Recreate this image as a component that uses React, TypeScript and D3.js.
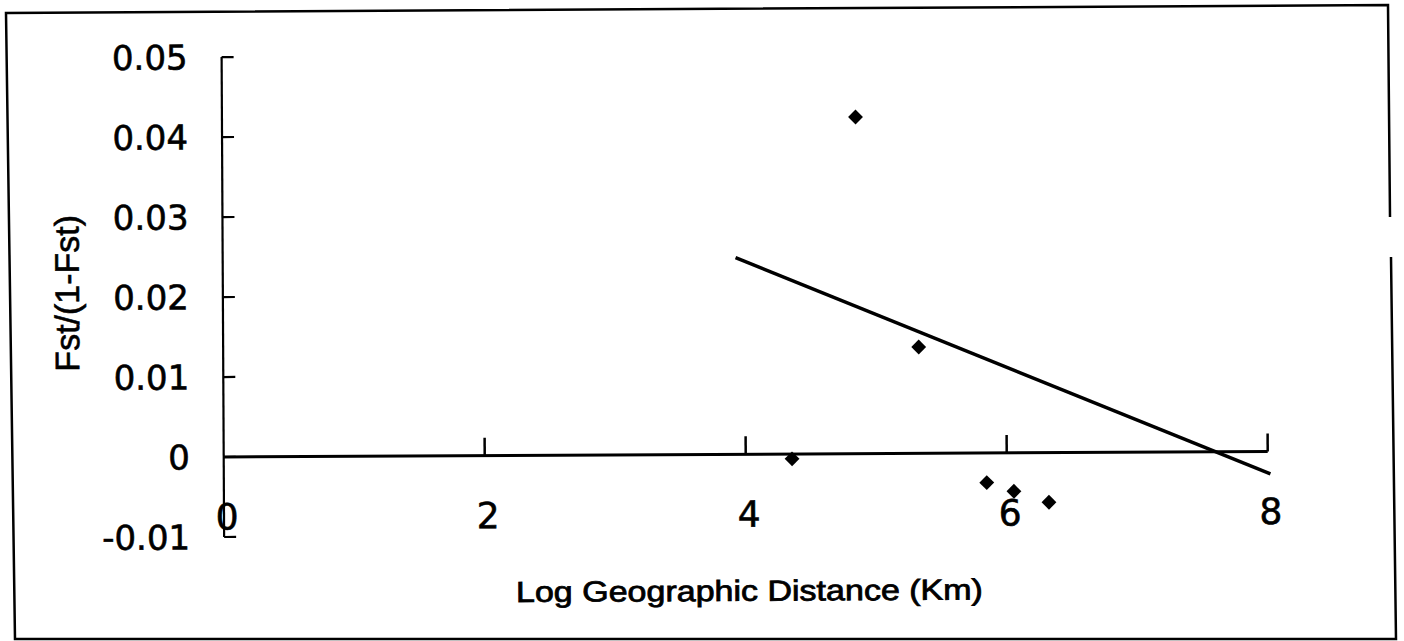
import React from "react";
import * as d3 from "d3";

const distX = [4.355, 4.855, 5.33, 5.846, 6.054, 6.322];
const fstY = [-0.0006, 0.0421, 0.0133, -0.0037, -0.0048, -0.0062];
const fitX = [3.93, 8.02];
const fitY = [0.0246, -0.0028];
const xTicks = [0, 2, 4, 6, 8];
const yTicks = [-0.01, 0, 0.01, 0.02, 0.03, 0.04, 0.05];
const yTickLabels = ["-0.01", "0", "0.01", "0.02", "0.03", "0.04", "0.05"];
const xTitle = "Log Geographic Distance (Km)";
const yTitle = "Fst/(1-Fst)";

export default function App() {
  const W = 1404, H = 641;
  const x = d3.scaleLinear().domain([0, 8]).range([223, 1267]);
  const y = d3.scaleLinear().domain([-0.01, 0.05]).range([534.5, 54.6]);
  const diamond = d3.symbol().type(d3.symbolSquare).size(110)();
  const line = d3.line<number>().x((_, i) => x(fitX[i])).y((_, i) => y(fitY[i]));
  const tickFont = "'DejaVu Sans', sans-serif";
  const titleFont = "'Liberation Sans', Arial, sans-serif";
  return (
    <svg width={W} height={H} style={{ position: "absolute", left: 0, top: 0, background: "#fff" }}>
      <rect x={0} y={0} width={W} height={H} fill="#fff" />
      {/* frame */}
      <path d="M1390,217 L1388,5 L6,13 L15,639 L1396,639 L1391,257" fill="none" stroke="#000" strokeWidth={2.5} />
      <g transform="rotate(-0.3 700 320)">
        {/* y axis */}
        <line x1={x(0)} x2={x(0)} y1={y(0.05)} y2={y(-0.01)} stroke="#000" strokeWidth={2.2} />
        {yTicks.map((t) => (
          <line key={"yt" + t} x1={x(0)} x2={x(0) + 12} y1={y(t)} y2={y(t)} stroke="#000" strokeWidth={2.2} />
        ))}
        {yTicks.map((t, i) => (
          <text key={"yl" + t} x={x(0) - 34} y={y(t)} dy="0.36em" textAnchor="end"
            fontFamily={tickFont} fontSize={34} fill="#000" stroke="#000" strokeWidth={0.6}>{yTickLabels[i]}</text>
        ))}
        {/* x axis */}
        <line x1={x(0)} x2={x(8)} y1={y(0)} y2={y(0)} stroke="#000" strokeWidth={3} />
        {xTicks.filter((t) => t > 0).map((t) => (
          <line key={"xt" + t} x1={x(t)} x2={x(t)} y1={y(0)} y2={y(0) - 18} stroke="#000" strokeWidth={2.5} />
        ))}
        {xTicks.map((t) => (
          <text key={"xl" + t} x={x(t) + 3} y={527} textAnchor="middle"
            fontFamily={tickFont} fontSize={36} fill="#000" stroke="#000" strokeWidth={0.6}>{String(t)}</text>
        ))}
        {/* regression line */}
        <path d={line(fitX) || ""} fill="none" stroke="#000" strokeWidth={3.5} />
        {/* points */}
        {distX.map((d, i) => (
          <path key={"p" + i} d={diamond || ""} transform={`translate(${x(d)},${y(fstY[i])}) rotate(45)`} fill="#000" />
        ))}
        {/* titles */}
        <text x={748} y={601} textAnchor="middle" fontFamily={titleFont} fontSize={29}
          textLength={467} lengthAdjust="spacingAndGlyphs" fill="#000" stroke="#000" strokeWidth={0.8}>{xTitle}</text>
        <text transform="translate(79,290) rotate(-90)" textAnchor="middle" fontFamily={titleFont}
          fontSize={34} fill="#000" stroke="#000" strokeWidth={0.6}>{yTitle}</text>
      </g>
    </svg>
  );
}
